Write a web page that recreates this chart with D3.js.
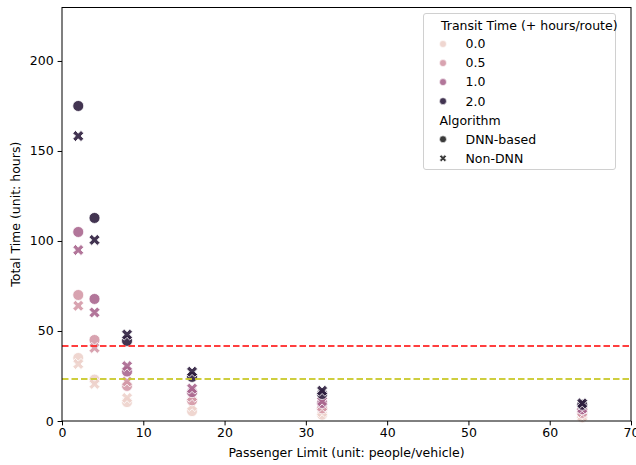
<!DOCTYPE html>
<html><head><meta charset="utf-8">
<script src="https://cdn.jsdelivr.net/npm/d3@7"></script>
<style>body{margin:0;background:#fff}text{font-family:"DejaVu Sans",sans-serif;fill:#000}</style>
</head><body><svg id="c" width="636" height="465"></svg>
<script>
// ---- data ----
const passengerLimits = [2, 4, 8, 16, 32, 64];
const transitTimes = [0.0, 0.5, 1.0, 2.0];
const algorithms = ["DNN-based", "Non-DNN"];
const dnnT00 = [35, 23, 10.5, 5.5, 3.5, 2];
const dnnT05 = [70, 45, 19.5, 11.5, 7, 4.5];
const dnnT10 = [105, 67.8, 27.5, 16, 10, 6.5];
const dnnT20 = [175, 112.8, 44.5, 24.5, 15, 9];
const nonT00 = [31.7, 20.6, 12.8, 8.3, 5, 2.5];
const nonT05 = [64, 40.6, 22, 13.5, 8, 5];
const nonT10 = [95, 60.3, 30.5, 18, 11, 7];
const nonT20 = [158.3, 100.6, 48, 27.4, 16.8, 9.8];
const refLineValues = [41.7, 23.3];
const xTickValues = [0, 10, 20, 30, 40, 50, 60, 70];
const yTickValues = [0, 50, 100, 150, 200];

const seriesDNN = [dnnT00, dnnT05, dnnT10, dnnT20];
const seriesNon = [nonT00, nonT05, nonT10, nonT20];

// ---- seaborn default cubehelix ----
function cubehelix(x) {
  const start = 0, rot = 0.4, hue = 0.8, gamma = 1;
  const xg = Math.pow(x, gamma);
  const a = hue * xg * (1 - xg) / 2;
  const phi = 2 * Math.PI * (start / 3 + rot * x);
  const c = Math.cos(phi), s = Math.sin(phi);
  const r = xg + a * (-0.14861 * c + 1.78277 * s);
  const g = xg + a * (-0.29227 * c - 0.90649 * s);
  const b = xg + a * (1.97294 * c);
  const f = v => Math.round(Math.max(0, Math.min(1, v)) * 255);
  return d3.rgb(f(r), f(g), f(b)).formatHex();
}
const hueNorm = d3.scaleLinear().domain(d3.extent(transitTimes)).range([0.85, 0.15]);
const color = t => cubehelix(hueNorm(t));

const FS = 12.5;
const svg = d3.select("#c");
const L = 62, R = 631, T = 7.5, B = 421;
const x = d3.scaleLinear().domain([0, 70]).range([L, R]);
const y = d3.scaleLinear().domain([0, 229.7]).range([B, T]);

// points
const circleSym = d3.symbol(d3.symbolCircle, 95)();
const crossSym = d3.symbol(d3.symbolCross, 76)();
const pts = [];
transitTimes.forEach((t, i) => {
  passengerLimits.forEach((p, j) => {
    pts.push({p, v: seriesDNN[i][j], t, alg: algorithms[0]});
    pts.push({p, v: seriesNon[i][j], t, alg: algorithms[1]});
  });
});
const gp = svg.append("g");
gp.selectAll("path").data(pts).join("path")
  .attr("d", d => d.alg === algorithms[0] ? circleSym : crossSym)
  .attr("transform", d => `translate(${x(d.p)},${y(d.v)})` + (d.alg === algorithms[1] ? " rotate(45)" : ""))
  .attr("fill", d => color(d.t))
  .attr("fill-opacity", 0.9)
  .attr("stroke", "#fff").attr("stroke-width", 0.8);

// reference lines
const refColors = ["#ff2a2a", "#c9c92a"];
svg.append("g").selectAll("line").data(refLineValues).join("line")
  .attr("x1", L).attr("x2", R).attr("y1", d => y(d)).attr("y2", d => y(d))
  .attr("stroke", (d, i) => refColors[i]).attr("stroke-width", 2)
  .attr("stroke-dasharray", "6.5,3").attr("opacity", 0.9);

// axes
const xAxis = svg.append("g").attr("transform", `translate(0,${B})`)
  .call(d3.axisBottom(x).tickValues(xTickValues).tickSize(4.4).tickPadding(3).tickFormat(d3.format("d")));
const yAxis = svg.append("g").attr("transform", `translate(${L},0)`)
  .call(d3.axisLeft(y).tickValues(yTickValues).tickSize(4.4).tickPadding(4).tickFormat(d3.format("d")));
[xAxis, yAxis].forEach(a => {
  a.select(".domain").remove();
  a.selectAll("text").attr("font-size", FS).attr("font-family", "DejaVu Sans").attr("fill", "#000");
  a.selectAll("line").attr("stroke", "#000").attr("stroke-width", 1);
});
svg.append("rect").attr("x", L).attr("y", T).attr("width", R - L).attr("height", B - T)
  .attr("fill", "none").attr("stroke", "#000").attr("stroke-width", 1);

svg.append("text").attr("x", (L + R) / 2).attr("y", 453).attr("dy", "0.35em").attr("text-anchor", "middle")
  .attr("font-size", FS).text("Passenger Limit (unit: people/vehicle)");
svg.append("text").attr("transform", `translate(16,${(T + B) / 2}) rotate(-90)`).attr("dy", "0.35em")
  .attr("text-anchor", "middle").attr("font-size", FS).text("Total Time (unit: hours)");

// legend
const lg = svg.append("g");
lg.append("rect").attr("x", 423.5).attr("y", 13.5).attr("width", 192).attr("height", 156).attr("rx", 2.5)
  .attr("fill", "#fff").attr("fill-opacity", 0.8).attr("stroke", "#d0d0d0").attr("stroke-width", 1);
const rowY = i => 44 + i * 19.05;
lg.append("text").attr("x", 441).attr("y", 25.5).attr("dy", "0.35em").attr("font-size", FS)
  .text("Transit Time (+ hours/route)");
const legCircle = d3.symbol(d3.symbolCircle, 38)();
const legCross = d3.symbol(d3.symbolCross, 30)();
transitTimes.forEach((t, i) => {
  lg.append("path").attr("d", legCircle).attr("transform", `translate(443,${rowY(i)})`)
    .attr("fill", color(t)).attr("fill-opacity", 0.9).attr("stroke", "#fff").attr("stroke-width", 0.6);
  lg.append("text").attr("x", 465.5).attr("y", rowY(i)).attr("dy", "0.35em").attr("font-size", FS)
    .text(d3.format(".1f")(t));
});
lg.append("text").attr("x", 439.5).attr("y", rowY(4)).attr("dy", "0.35em").attr("font-size", FS).text("Algorithm");
algorithms.forEach((a, i) => {
  lg.append("path").attr("d", i === 0 ? legCircle : legCross)
    .attr("transform", `translate(443,${rowY(5 + i)})` + (i === 1 ? " rotate(45)" : ""))
    .attr("fill", "#3a3a3a").attr("stroke", "#fff").attr("stroke-width", 0.6);
  lg.append("text").attr("x", 465.5).attr("y", rowY(5 + i)).attr("dy", "0.35em").attr("font-size", FS).text(a);
});
</script></body></html>
